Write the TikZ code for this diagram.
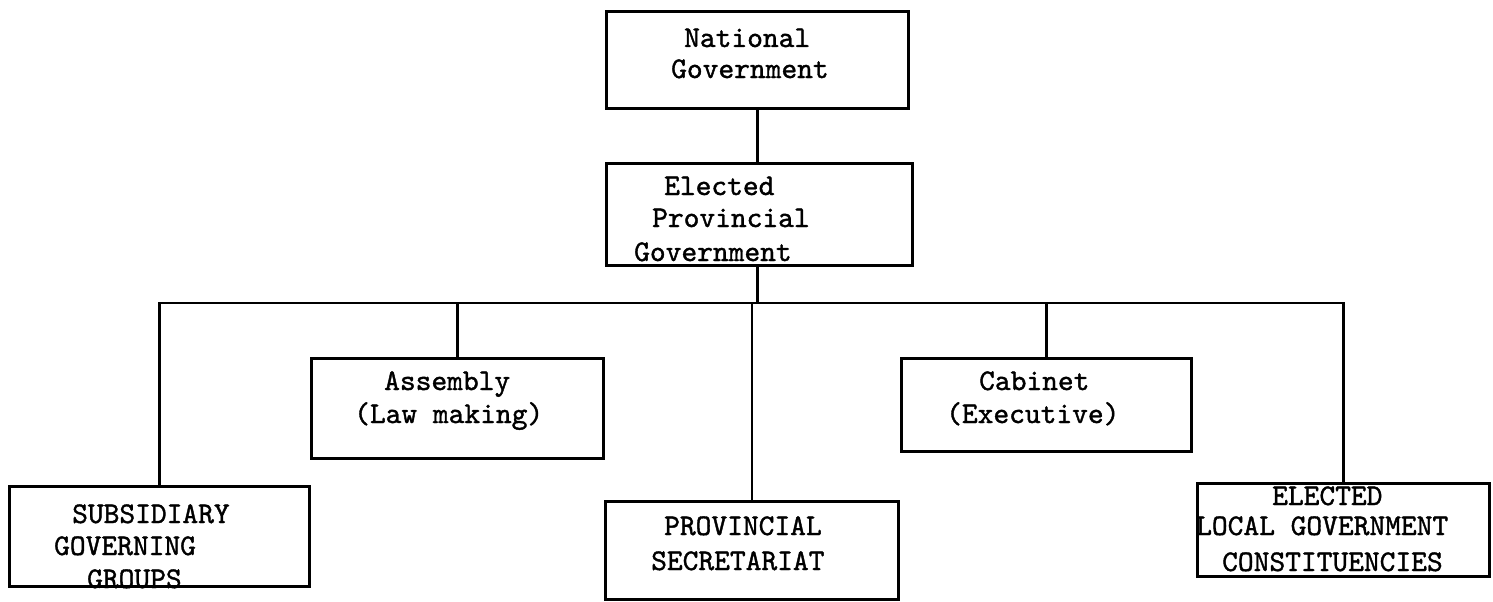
\documentclass[tikz,border=0pt]{standalone}
\usepackage{fontspec}
\newfontfamily\twfont[FakeBold=1.3]{lmmono10-regular.otf}
\begin{document}
\begin{tikzpicture}[x=1pt,y=-1pt,
  box/.style={draw,line width=2.6pt,inner sep=0pt,anchor=north west},
  lbl/.style={anchor=base west,inner sep=0pt,font=\twfont\fontsize{30}{32}\selectfont},
  wire/.style={line width=2.6pt}]
\useasboundingbox (0,0) rectangle (1493,602);
% boxes
\node[box,minimum width=302pt,minimum height=97pt] (nat) at (605,10) {};
\node[box,minimum width=306pt,minimum height=102pt] (elec) at (605,162) {};
\node[box,minimum width=292pt,minimum height=100pt] (asm) at (310,357) {};
\node[box,minimum width=290pt,minimum height=93pt] (cab) at (900,357) {};
\node[box,minimum width=300pt,minimum height=100pt] (sub) at (8,485) {};
\node[box,minimum width=293pt,minimum height=98pt] (sec) at (604,500) {};
\node[box,minimum width=292pt,minimum height=93pt] (loc) at (1196,482) {};
% texts
\node[lbl] (natA) at (684,47) {National};
\node[lbl] (natB) at (671,78) {Government};
\node[lbl] (elecA) at (664,195) {Elected};
\node[lbl] (elecB) at (652,227) {Provincial};
\node[lbl] (elecC) at (634,261) {Government};
\node[lbl] (asmA) at (384,390) {Assembly};
\node[lbl] (asmB) at (354,423) {(Law making)};
\node[lbl] (cabA) at (979,390) {Cabinet};
\node[lbl] (cabB) at (946,423) {(Executive)};
\node[lbl] (subA) at (72,523) {SUBSIDIARY};
\node[lbl] (subB) at (54,555) {GOVERNING};
\node[lbl] (subC) at (87,588) {GROUPS};
\node[lbl] (secA) at (664,535) {PROVINCIAL};
\node[lbl] (secB) at (651,570) {SECRETARIAT};
\node[lbl] (locA) at (1272,505) {ELECTED};
\node[lbl] (locB) at (1196,535) {LOCAL GOVERNMENT};
\node[lbl] (locC) at (1222,571) {CONSTITUENCIES};
% connectors
\coordinate (bus) at (756,303);
\draw[wire] (nat.south) -- (nat.south |- elec.north);
\draw[wire] (elec.south -| nat.south) -- (nat.south |- bus);
\draw[wire] (sub.north) |- (loc.north |- bus) -- (loc.north);
\draw[wire] (asm.north) -- (asm.north |- bus);
\draw[wire] (sec.north) -- (sec.north |- bus);
\draw[wire] (cab.north) -- (cab.north |- bus);
\end{tikzpicture}
\end{document}
